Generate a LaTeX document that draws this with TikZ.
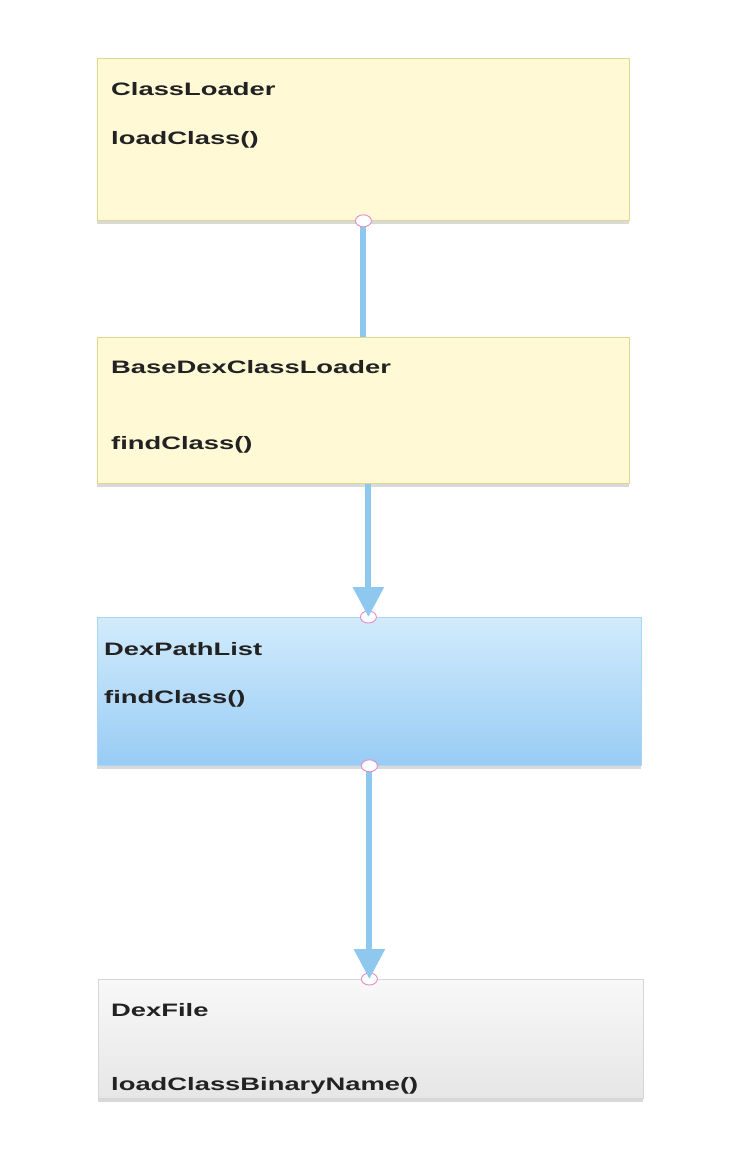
\documentclass[tikz,border=0pt]{standalone}
\usepackage{fontspec}
\setmainfont{Liberation Sans}
\newfontfamily\boxfont[FakeStretch=1.52]{Liberation Sans}
\usetikzlibrary{arrows.meta,positioning,shadows,shapes.geometric}
\definecolor{colorCL}{HTML}{FFF9D6}
\definecolor{colorCLd}{HTML}{E2D58E}
\definecolor{colorDPt}{HTML}{D2EBFC}
\definecolor{colorDPb}{HTML}{98CCF5}
\definecolor{colorDPd}{HTML}{A9D4F2}
\definecolor{colorDFt}{HTML}{F8F8F8}
\definecolor{colorDFb}{HTML}{E6E6E6}
\definecolor{colorDFd}{HTML}{D6D6D6}
\definecolor{colorLink}{HTML}{8FC8EF}
\definecolor{colorPort}{HTML}{E28BC8}
\definecolor{colorTxt}{HTML}{222222}

\begin{document}
\begin{tikzpicture}[x=1pt,y=-1pt,>={Triangle[width=30pt,length=30pt]},
  cls/.style={rectangle, anchor=north west, line width=0.8pt, inner sep=0pt,
    drop shadow={shadow xshift=0pt, shadow yshift=-4pt, opacity=0.25, fill=black!60}},
  txt/.style={anchor=base west, inner sep=0pt, text=colorTxt, font=\boxfont\bfseries\fontsize{18}{20}\selectfont},
  link/.style={draw=colorLink, line width=6pt},
  port/.style={ellipse, draw=colorPort, fill=white, line width=0.9pt, minimum width=16pt, minimum height=12pt, inner sep=0pt},]
    \useasboundingbox (0,0) rectangle (740,1152);
    % classes
    \node [cls, draw=colorCLd, fill=colorCL, minimum width=532pt, minimum height=162pt] (CL) at (97,58) {};
    \node [cls, draw=colorCLd, fill=colorCL, minimum width=532pt, minimum height=146pt] (BDCL) at (97,337) {};
    \node [cls, draw=colorDPd, top color=colorDPt, bottom color=colorDPb, minimum width=544pt, minimum height=148pt] (DPL) at (97,617) {};
    \node [cls, draw=colorDFd, top color=colorDFt, bottom color=colorDFb, minimum width=545pt, minimum height=119pt] (DF) at (98,979) {};
    % names and methods
    \node [txt] (CLname) at (111,95) {ClassLoader};
    \node [txt] (CLop) at (111,144) {loadClass()};
    \node [txt] (BDCLname) at (111,373) {BaseDexClassLoader};
    \node [txt] (BDCLop) at (111,449) {findClass()};
    \node [txt] (DPLname) at (104,655) {DexPathList};
    \node [txt] (DPLop) at (104,703) {findClass()};
    \node [txt] (DFname) at (111,1016) {DexFile};
    \node [txt] (DFop) at (111,1090) {loadClassBinaryName()};
    % calls
    \coordinate (BDCLout) at ([xshift=5pt]BDCL.south);
    \coordinate (DPLin) at (BDCLout |- DPL.north);
    \coordinate (DFin) at (DPL.south |- DF.north);
    \path[link] (CL.south) -- (CL.south |- BDCL.north);
    \node [port] (CLport) at (CL.south) {};
    \node [port] (DPLinport) at (DPLin) {};
    \path[link,->] (BDCLout) -- (DPLin);
    \node [port] (DFinport) at (DFin) {};
    \path[link,->] (DPL.south) -- (DFin);
    \node [port] (DPLport) at (DPL.south) {};
\end{tikzpicture}
\end{document}
